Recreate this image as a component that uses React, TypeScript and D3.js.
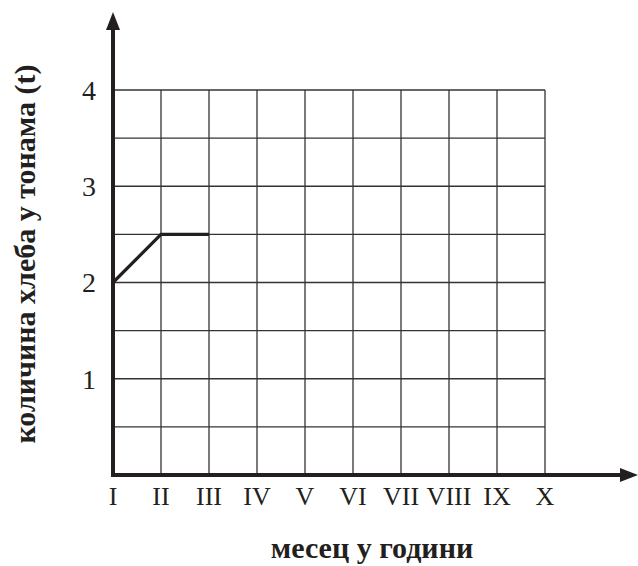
import React from "react";
import * as d3 from "d3";

const months = ["I", "II", "III", "IV", "V", "VI", "VII", "VIII", "IX", "X"];
const breadValues = [2, 2.5, 2.5];
const yTicks = [1, 2, 3, 4];
const gridYValues = [0.5, 1, 1.5, 2, 2.5, 3, 3.5, 4];
const xTitle = "месец у години";
const yTitle = "количина хлеба у тонама (t)";

export default function App() {
  const W = 638, H = 566;
  const x = d3.scaleLinear().domain([0, months.length - 1]).range([113, 545]);
  const y = d3.scaleLinear().domain([0, 4]).range([475, 90]);
  const line = d3.line<number>().x((_, i) => x(i)).y((d) => y(d));
  const fontStyle = { fontFamily: "Liberation Serif, DejaVu Serif, serif" };
  return (
    <svg width={W} height={H} style={{ position: "absolute", left: 0, top: 0 }}>
      <rect width={W} height={H} fill="#fff" />
      {months.map((m, i) =>
        i === 0 ? null : (
          <line key={"v" + m} x1={x(i)} x2={x(i)} y1={y(4)} y2={y(0)} stroke="#333" strokeWidth={1.3} />
        )
      )}
      {gridYValues.map((v) => (
        <line key={"h" + v} x1={x(0)} x2={x(months.length - 1)} y1={y(v)} y2={y(v)} stroke="#333" strokeWidth={1.3} />
      ))}
      <line x1={x(0)} x2={x(0)} y1={y(0) + 2} y2={26} stroke="#231f20" strokeWidth={4} />
      <path d={`M${x(0)},12 L${x(0) - 7},30 L${x(0) + 7},30 Z`} fill="#231f20" />
      <line x1={x(0) - 2} x2={624} y1={y(0)} y2={y(0)} stroke="#231f20" strokeWidth={4} />
      <path d={`M638,${y(0)} L620,${y(0) - 7} L620,${y(0) + 7} Z`} fill="#231f20" />
      <path d={line(breadValues) || ""} fill="none" stroke="#231f20" strokeWidth={3.2} strokeLinejoin="miter" />
      {months.map((m, i) => (
        <text key={"xl" + m} x={x(i)} y={505} textAnchor="middle" style={fontStyle} fontSize={26} fill="#231f20">
          {m}
        </text>
      ))}
      {yTicks.map((t) => (
        <text key={"yl" + t} x={89} y={y(t)} dy="0.35em" textAnchor="middle" style={fontStyle} fontSize={28} fill="#231f20">
          {t}
        </text>
      ))}
      <text x={372} y={558} textAnchor="middle" style={fontStyle} fontSize={30} fontWeight="bold" fill="#231f20">
        {xTitle}
      </text>
      <text
        transform={`translate(35,254) rotate(-90)`}
        textAnchor="middle"
        style={fontStyle}
        fontSize={30}
        fontWeight="bold"
        fill="#231f20"
      >
        {yTitle}
      </text>
    </svg>
  );
}
